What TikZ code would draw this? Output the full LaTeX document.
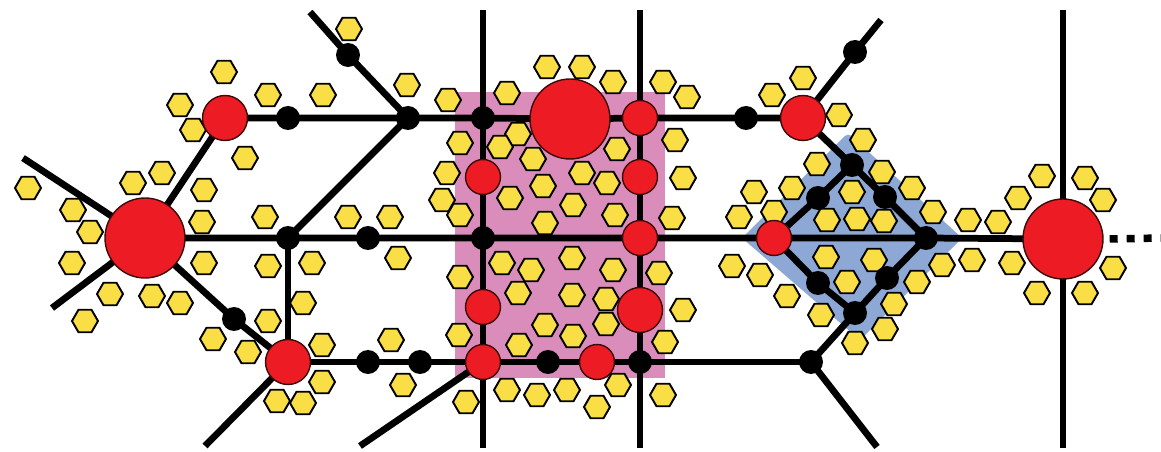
\documentclass[tikz,border=0pt]{standalone}
\usetikzlibrary{shapes.geometric}
\pgfdeclarelayer{bg}\pgfdeclarelayer{hexl}\pgfdeclarelayer{linel}
\pgfsetlayers{bg,hexl,linel,main}
\definecolor{netred}{RGB}{237,28,36}
\definecolor{hexyel}{RGB}{250,222,70}
\definecolor{pinkbg}{RGB}{218,141,186}
\definecolor{bluebg}{RGB}{141,168,212}
\definecolor{redline}{RGB}{60,10,10}
\begin{document}
\begin{tikzpicture}[x=0.02cm,y=-0.02cm,
  bigred/.style={circle,fill=netred,draw=redline,line width=0.8pt,minimum size=1.6cm,inner sep=0},
  midred/.style={circle,fill=netred,draw=redline,line width=0.8pt,minimum size=0.9cm,inner sep=0},
  smallred/.style={circle,fill=netred,draw=redline,line width=0.8pt,minimum size=0.7cm,inner sep=0},
  blk/.style={circle,fill=black,minimum size=0.48cm,inner sep=0},
  hex/.style={regular polygon,regular polygon sides=6,minimum size=0.52cm,inner sep=0,fill=hexyel,draw=black,line width=1.1pt},
  edge/.style={line width=0.135cm,draw=black},
  dotline/.style={line width=0.15cm,draw=black,dash pattern=on 0.16cm off 0.18cm}]
\useasboundingbox (0,0) rectangle (1161,452);
% backgrounds
\begin{pgfonlayer}{bg}
\fill[pinkbg] (455,92) rectangle (665,378);
\fill[bluebg,rounded corners=0.08cm] (848,133) -- (962,238) -- (860,340) -- (742,238) -- cycle;
\end{pgfonlayer}
% hexagons
\begin{pgfonlayer}{hexl}
\foreach \x/\y [count=\i] in {
224/72,180/105,268/95,193/130,245/158,162/173,133/183,204/190,28/188,73/210,90/232,202/222,265/217,
72/263,110/294,85/321,152/296,180/303,204/263,268/266,312/263,398/258,303/303,268/321,213/339,248/352,
322/345,322/382,277/401,303/403,391/340,403/385,
323/95,407/85,349/29,348/217,390/217,448/100,507/93,547/67,582/67,518/134,500/147,460/143,533/159,
447/173,582/173,543/186,510/198,442/200,460/215,573/205,545/223,
613/82,663/82,687/97,617/149,675/140,607/183,683/178,615/215,672/218,
502/263,460/277,531/270,572/258,613/270,659/273,518/293,572/295,606/299,683/310,545/325,573/336,
606/324,459/335,519/345,665/342,466/402,507/390,537/395,567/390,618/385,597/407,663/395,
772/95,803/78,839/115,863/140,817/164,882/172,754/192,792/188,852/192,912/188,739/217,774/212,
827/220,857/219,884/221,933/212,732/266,760/275,826/257,874/260,942/265,847/282,917/282,787/296,
894/304,821/315,885/329,855/343,
968/220,998/222,1018/198,1042/176,1085/178,1103/200,972/260,1012/263,1113/268,1037/293,1085/293}
  \node[hex] (h\i) at (\x,\y) {};
\end{pgfonlayer}
% nodes
\node[bigred] (RL) at (145,238) {};
\node[bigred] (RT) at (570,119) {};
\node[bigred] (RR) at (1063,239) {};
\node[midred] (ra) at (225,118) {};
\node[midred] (rb) at (288,362) {};
\node[midred] (rc) at (803,118) {};
\node[midred] (rd) at (640,310) {};
\node[smallred] (p1) at (483,177) {};
\node[smallred] (p2) at (483,307) {};
\node[smallred] (p3) at (483,362) {};
\node[smallred] (q1) at (640,118) {};
\node[smallred] (q2) at (640,177) {};
\node[smallred] (q3) at (640,238) {};
\node[smallred] (q4) at (597,362) {};
\node[smallred] (d0) at (774,238) {};
\node[blk] (b1) at (288,118) {};
\node[blk] (b2) at (408,118) {};
\node[blk] (b3) at (348,55) {};
\node[blk] (b4) at (483,118) {};
\node[blk] (b5) at (288,238) {};
\node[blk] (b6) at (368,238) {};
\node[blk] (b7) at (483,238) {};
\node[blk] (b8) at (234,319) {};
\node[blk] (b9) at (368,362) {};
\node[blk] (b10) at (420,362) {};
\node[blk] (b11) at (548,362) {};
\node[blk] (b12) at (640,362) {};
\node[blk] (b13) at (746,118) {};
\node[blk] (b14) at (855,52) {};
\node[blk] (b15) at (811,362) {};
\node[blk] (dt) at (852,165) {};
\node[blk] (dtl) at (818,198) {};
\node[blk] (dtr) at (885,197) {};
\node[blk] (dr) at (926,238) {};
\node[blk] (dbl) at (818,283) {};
\node[blk] (dbr) at (887,278) {};
\node[blk] (db) at (855,313) {};
% free ends
\coordinate (s1) at (310,12);
\coordinate (s2) at (483,10);
\coordinate (s3) at (483,448);
\coordinate (s4) at (640,10);
\coordinate (s5) at (640,448);
\coordinate (s6) at (1063,10);
\coordinate (s7) at (1063,448);
\coordinate (s8) at (23,158);
\coordinate (s9) at (52,308);
\coordinate (s10) at (205,446);
\coordinate (s11) at (360,446);
\coordinate (s12) at (881,20);
\coordinate (s13) at (877,447);
\coordinate (s14) at (1161,238);
% connectors
\begin{pgfonlayer}{linel}
\draw[edge] (ra.center) -- (b1.center) -- (b2.center) -- (b4.center) -- (RT.center) -- (q1.center) -- (b13.center) -- (rc.center);
\draw[edge] (RL.center) -- (b5.center) -- (b6.center) -- (b7.center) -- (q3.center) -- (d0.center) -- (dr.center) -- (RR.center);
\draw[edge] (rb.center) -- (b9.center) -- (b10.center) -- (p3.center) -- (b11.center) -- (q4.center) -- (b12.center) -- (b15.center);
\draw[edge] (s2) -- (b4.center) -- (p1.center) -- (b7.center) -- (p2.center) -- (p3.center) -- (s3);
\draw[edge] (s4) -- (q1.center) -- (q2.center) -- (q3.center) -- (rd.center) -- (b12.center) -- (s5);
\draw[edge] (s6) -- (RR.center) -- (s7);
\draw[edge] (b5.center) -- (rb.center);
\draw[edge] (s1) -- (b3.center) -- (b2.center) -- (b5.center);
\draw[edge] (RL.center) -- (ra.center);
\draw[edge] (s8) -- (RL.center) -- (s9);
\draw[edge] (RL.center) -- (b8.center) -- (rb.center) -- (s10);
\draw[edge] (p3.center) -- (s11);
\draw[edge] (rc.center) -- (b14.center) -- (s12);
\draw[edge] (rc.center) -- (dt.center);
\draw[edge] (dt.center) -- (dtl.center) -- (d0.center) -- (dbl.center) -- (db.center) -- (dbr.center) -- (dr.center) -- (dtr.center) -- (dt.center);
\draw[edge] (db.center) -- (b15.center) -- (s13);
\draw[dotline] ([xshift=0.12cm]RR.east) -- (s14);
\end{pgfonlayer}
\end{tikzpicture}
\end{document}
